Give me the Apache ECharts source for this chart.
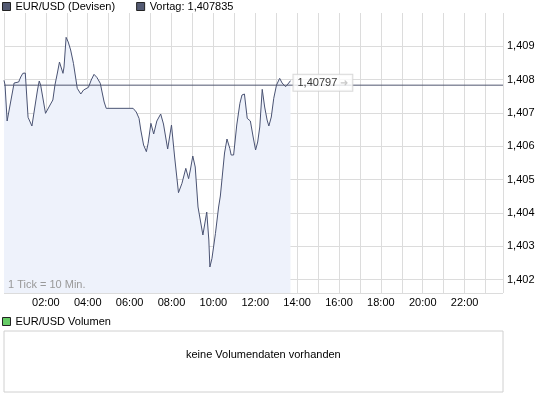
<!DOCTYPE html>
<html>
<head>
<meta charset="utf-8">
<script src="https://cdn.jsdelivr.net/npm/echarts@6/dist/echarts.min.js"></script>
<style>
html,body{margin:0;padding:0;background:#fff;}
#chart{width:545px;height:395px;}
</style>
</head>
<body>
<div id="chart"></div>
<script>
// minutes since 00:00 for each visible vertex of the intraday line
const times = [0,3,9,29,34,42,48,54,61,69,80,96,101,105,119,132,140,146,153,159,163,169,172,178,184,191,199,210,220,228,242,250,258,266,276,281,287,293,370,379,387,392,400,408,413,421,429,438,449,457,469,480,489,500,510,521,529,534,541,548,556,570,581,587,590,596,606,615,620,632,639,647,651,658,667,676,682,689,697,706,714,721,727,733,740,747,754,759,766,773,781,790,797,807,812,816,821];
const prices = [1.40798,1.40784,1.40676,1.40790,1.40790,1.40793,1.40808,1.40819,1.40820,1.40687,1.40661,1.40769,1.40796,1.40784,1.40699,1.40724,1.40739,1.40784,1.40820,1.40853,1.40849,1.40819,1.40838,1.40927,1.40913,1.40889,1.40849,1.40774,1.40757,1.40769,1.40777,1.40799,1.40816,1.40807,1.40789,1.40763,1.40733,1.40714,1.40714,1.40703,1.40684,1.40649,1.40604,1.40584,1.40609,1.40669,1.40637,1.40676,1.40697,1.40667,1.40592,1.40664,1.40568,1.40461,1.40489,1.40534,1.40503,1.40529,1.40571,1.40538,1.40418,1.40334,1.40403,1.40319,1.40238,1.40264,1.40339,1.40418,1.40451,1.40580,1.40622,1.40594,1.40574,1.40574,1.40664,1.40729,1.40754,1.40757,1.40684,1.40676,1.40628,1.40589,1.40613,1.40658,1.40771,1.40718,1.40679,1.40661,1.40688,1.40744,1.40784,1.40804,1.40790,1.40779,1.40779,1.40790,1.40797];
const vortag = 1.407835;
const hourLabels = ['02:00','04:00','06:00','08:00','10:00','12:00','14:00','16:00','18:00','20:00','22:00'];
const labelMinutes = [120,240,360,480,600,720,840,960,1080,1200,1320];
const dayStart = 0, dayEnd = 1430;

const FONT = 'Liberation Sans, Arial, sans-serif';
const comma = (v, d) => v.toFixed(d).replace('.', ',');
const seriesData = times.map((t, i) => [t, prices[i]]);
const vortagData = [[dayStart, vortag], [dayEnd, vortag]];
const lastIdx = prices.length - 1;
const lastPoint = [[times[lastIdx], prices[lastIdx]]];

const chart = echarts.init(document.getElementById('chart'), null, {renderer: 'canvas'});
chart.setOption({
  animation: false,
  backgroundColor: '#fff',
  textStyle: {fontFamily: FONT, fontSize: 11},
  title: [
    {text: '1 Tick = 10 Min.', left: 8, top: 279, padding: 0,
     textStyle: {fontFamily: FONT, fontSize: 11, fontWeight: 'normal', color: '#999'}},
    {text: 'keine Volumendaten vorhanden', left: 186, top: 349, padding: 0,
     textStyle: {fontFamily: FONT, fontSize: 11, fontWeight: 'normal', color: '#000'}}
  ],
  legend: [
    {left: 2, top: 1, padding: 0, itemWidth: 8, itemHeight: 8, itemGap: 21,
     textStyle: {fontFamily: FONT, fontSize: 11, color: '#000', padding: [1, 0, 0, 0]},
     selectedMode: false,
     data: [
       {name: 'EUR/USD (Devisen)', icon: 'rect', itemStyle: {color: '#535a72', borderColor: '#222', borderWidth: 1}},
       {name: 'Vortag: 1,407835', icon: 'rect', itemStyle: {color: '#535a72', borderColor: '#222', borderWidth: 1}}
     ]},
    {left: 2, top: 316, padding: 0, itemWidth: 8, itemHeight: 8,
     textStyle: {fontFamily: FONT, fontSize: 11, color: '#000', padding: [1, 0, 0, 0]},
     selectedMode: false,
     data: [{name: 'EUR/USD Volumen', icon: 'rect', itemStyle: {color: '#66cc66', borderColor: '#222', borderWidth: 1}}]}
  ],
  grid: [
    {left: 4, right: 42, top: 13, bottom: 102, show: false},
    {left: 4, right: 42, top: 331, bottom: 3, show: true, borderColor: '#d0d0d0', borderWidth: 1}
  ],
  xAxis: [
    {type: 'value', gridIndex: 0, min: dayStart, max: dayEnd, interval: 60,
     axisLine: {show: false}, axisTick: {show: false},
     splitLine: {show: true, lineStyle: {color: '#dcdcdc', width: 1}},
     axisLabel: {show: true, margin: 4, color: '#000', fontFamily: FONT, fontSize: 11,
       formatter: v => { const k = labelMinutes.indexOf(v); return k >= 0 ? hourLabels[k] : ''; }}},
    {type: 'value', gridIndex: 1, min: 0, max: 1, show: false}
  ],
  yAxis: [
    {type: 'value', gridIndex: 0, position: 'right', min: 1.4016, max: 1.41, splitNumber: 8,
     axisLine: {show: false}, axisTick: {show: false},
     splitLine: {show: true, showMaxLine: false, lineStyle: {color: '#dcdcdc', width: 1}},
     axisLabel: {margin: 4, color: '#000', fontFamily: FONT, fontSize: 11, showMinLabel: false, showMaxLabel: false,
       formatter: v => comma(v, 3)}},
    {type: 'value', gridIndex: 1, min: 0, max: 1, show: false}
  ],
  series: [
    {name: 'EUR/USD (Devisen)', type: 'line', xAxisIndex: 0, yAxisIndex: 0, data: seriesData,
     symbol: 'none', z: 3,
     lineStyle: {color: '#4a5373', width: 1},
     itemStyle: {color: '#535a72'},
     areaStyle: {color: '#eef2fb', opacity: 1, origin: 'start'}},
    {name: 'Vortag: 1,407835', type: 'line', xAxisIndex: 0, yAxisIndex: 0, data: vortagData, z: 4,
     symbol: 'none', silent: true, lineStyle: {color: '#4f5670', width: 1}, itemStyle: {color: '#535a72'}},
    {name: 'lastPrice', type: 'scatter', xAxisIndex: 0, yAxisIndex: 0, data: lastPoint, z: 6,
     symbolSize: 0, silent: true,
     label: {show: true, position: 'right', distance: 3, offset: [0, 2],
       formatter: p => '{a|' + comma(p.value[1], 5) + '} {b|➜}',
       backgroundColor: '#fff', borderColor: '#d0d0d0', borderWidth: 1, padding: [3, 4, 2, 4],
       rich: {a: {fontFamily: FONT, fontSize: 11, color: '#000'}, b: {fontFamily: FONT, fontSize: 10, color: '#bbb'}}}},
    {name: 'EUR/USD Volumen', type: 'line', xAxisIndex: 1, yAxisIndex: 1, data: [],
     itemStyle: {color: '#66cc66'}}
  ]
});
</script>
</body>
</html>
